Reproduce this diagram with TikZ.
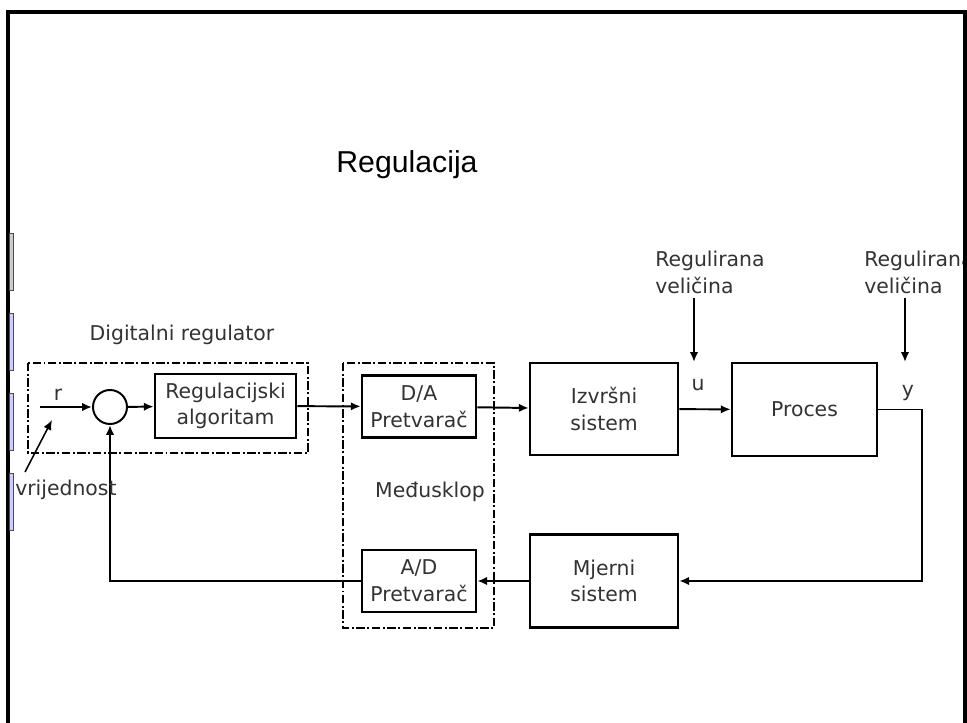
\documentclass[tikz,border=0pt]{standalone}
\usepackage{fontspec}
\setmainfont{DejaVu Sans}
\newfontfamily\naslovfont{Liberation Sans}
\usetikzlibrary{arrows.meta}

\begin{document}
\begin{tikzpicture}[x=0.025cm, y=-0.025cm,
    >={Latex[length=7pt,width=6pt]},
    every node/.style={text=black!80, font=\fontsize{14.5}{19}\selectfont},
    blok/.style={draw=black, line width=1.8pt, inner sep=0pt, align=center},
    krug/.style={draw=black, line width=1.4pt, circle, minimum size=0.85cm, inner sep=0pt},
    okvir/.style={line width=1.5pt, dash pattern=on 6pt off 1.8pt on 1.4pt off 1.8pt},
    veza/.style={line width=1.4pt, ->}]

    % Page
    \useasboundingbox (0,0) rectangle (967,723);
    \fill[white] (0,0) rectangle (967,723);

    % Title
    \node[anchor=base, text=black, font=\naslovfont\fontsize{21.5}{26}\selectfont] (naslov) at (407,172) {Regulacija};

    % Blocks
    \node[krug] (sum) at (110,407) {};
    \node[blok, minimum width=3.525cm, minimum height=1.6cm] (alg) at (225.5,406) {Regulacijski\\algoritam};
    \node[blok, minimum width=2.85cm, minimum height=1.55cm] (da) at (419,406.5) {D/A\\Pretvarač};
    \node[blok, minimum width=2.85cm, minimum height=1.55cm] (ad) at (419,581) {A/D\\Pretvarač};
    \node[blok, minimum width=3.7cm, minimum height=2.3cm] (izv) at (604,409) {Izvršni\\sistem};
    \node[blok, minimum width=3.625cm, minimum height=2.325cm] (proc) at (804.5,409.5) {Proces};
    \node[blok, minimum width=3.7cm, minimum height=2.325cm] (mjer) at (604,581) {Mjerni\\sistem};

    % Dash-dot frames
    \draw[okvir] (28,363) rectangle (308,453);
    \draw[okvir] (343,363) rectangle (494,628);
    \node[anchor=base] (digreg) at (182,340) {Digitalni regulator};
    \node[anchor=base] (medju) at (430,497) {Međusklop};

    % Signals
    \coordinate (rin) at (40,407);
    \coordinate (yk)  at (922,581);
    \coordinate (d1)  at (694,298);
    \coordinate (u1)  at (694,362);
    \coordinate (d2)  at (905,298);
    \coordinate (y1)  at (905,362);
    \coordinate (vr)  at (25,472);
    \coordinate (vrk) at (52,420);

    \draw[veza] (rin) -- (sum);
    \draw[veza] (sum) -- (alg);
    \draw[veza] (alg) -- (da);
    \draw[veza] (da) -- (izv);
    \draw[veza] (izv) -- (proc);
    \draw[veza] (proc.east) -| (yk) -- (mjer.east);
    \draw[veza] (mjer.west) -- (ad.east);
    \draw[veza] (ad.west) -| (sum.south);
    \draw[veza] (d1) -- (u1);
    \draw[veza] (d2) -- (y1);
    \draw[veza, line width=1.1pt] (vr) -- (vrk);

    % Labels
    \node[anchor=base] (r) at (58,400) {r};
    \node[anchor=base] (u) at (698,390) {u};
    \node[anchor=base] (y) at (908,396) {y};
    \node[anchor=base west, inner sep=0pt] (vrij) at (15,495) {vrijednost};
    \node[anchor=north west, inner sep=0pt, align=left] (reg1) at (655,251) {Regulirana\\veličina};
    \node[anchor=north west, inner sep=0pt, align=left] (reg2) at (864,251) {Regulirana\\veličina};

    % Frame
    \fill[white] (966,0) rectangle (967,723);
    \draw[line width=2.2pt] (8,723) -- (8,12) -- (965,12) -- (965,723);
    \filldraw[fill=black!20, draw=black!70, line width=0.5pt] (9,233) rectangle (13,290);
    \foreach \yb in {313,393,473}{
        \filldraw[fill=blue!20, draw=black!70, line width=0.5pt] (9,\yb) rectangle (13,\yb+57);
    }

\end{tikzpicture}
\end{document}
